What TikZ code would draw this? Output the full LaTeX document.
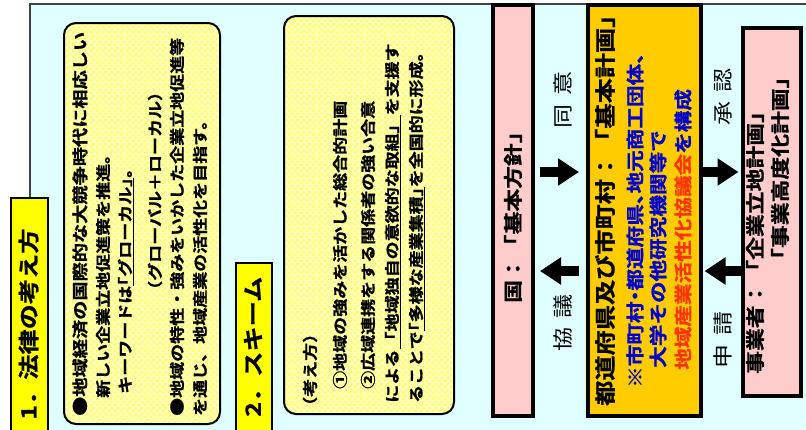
\documentclass[tikz,border=0pt]{standalone}
\usepackage{fontspec}
\usetikzlibrary{arrows.meta,patterns.meta}
\newfontfamily\jpb{Noto Sans CJK JP Bold}[FakeStretch=1.2, FakeBold=1]
\newfontfamily\jpr{Noto Sans CJK JP}[FakeStretch=1.2]
\newcommand\halfpunct{\addfontfeatures{RawFeature=+halt}}
\definecolor{bgcyan}{RGB}{224,255,255}
\definecolor{frame}{RGB}{64,64,64}
\definecolor{tabyellow}{RGB}{255,255,0}
\definecolor{ckyellow}{RGB}{255,255,110}
\definecolor{paleyellow}{RGB}{255,255,190}
\definecolor{pinkbox}{RGB}{255,204,204}
\definecolor{orangebox}{RGB}{255,204,0}
\definecolor{bluet}{RGB}{0,0,204}
\definecolor{redt}{RGB}{255,51,0}
\tikzdeclarepattern{
  name=ychecker,
  type=uncolored,
  bottom left={(0pt,0pt)},
  top right={(6pt,6pt)},
  tile size={(6pt,6pt)},
  code={
    \fill (0pt,0pt) rectangle (3pt,3pt);
    \fill (3pt,3pt) rectangle (6pt,6pt);
  }
}
\tikzset{
  tabbox/.style={draw=black, line width=2pt, fill=tabyellow, inner sep=0pt},
  roundbox/.style={draw=black, line width=2pt, rounded corners=12pt, inner sep=0pt,
    preaction={fill=paleyellow}, pattern=ychecker, pattern color=ckyellow},
  bigbox/.style={draw=black, line width=4pt, inner sep=0pt},
  line/.style={rotate=90, anchor=west, inner sep=0pt},
  tabtxt/.style={line, font=\jpb\fontsize{21}{24}\selectfont},
  bodytxt/.style={line, font=\jpb\fontsize{15}{18}\selectfont},
  kunitxt/.style={line, font=\jpb\fontsize{19}{22}\selectfont},
  preftxt/.style={line, font=\jpb\fontsize{21}{24}\selectfont},
  subtxt/.style={line, font=\jpb\fontsize{18}{22}\selectfont},
  jigtxt/.style={line, font=\jpb\fontsize{19}{22}\selectfont},
  lab/.style={rotate=90, inner sep=0pt, font=\jpr\fontsize{20}{24}\selectfont},
  fat/.style={line width=10pt, -{Triangle[length=21pt,width=26pt]}}
}
\begin{document}
\begin{tikzpicture}[x=1pt,y=-1pt]
\useasboundingbox (0,0) rectangle (806,429);
\clip (0,0) rectangle (806,429);
% outer frame
\fill[bgcyan] (30,4) rectangle (810,433);
\draw[frame, line width=1.5pt] (30,433) -- (30,4) -- (810,4);
% tabs
\node[tabbox, minimum width=37pt, minimum height=242pt] (tab1) at (29.5,319) {};
\node[tabbox, minimum width=36pt, minimum height=177pt] (tab2) at (254,351.5) {};
\node[tabtxt] (tab1t) at (28.5,420) {1．法律の考え方};
\node[tabtxt] (tab2t) at (253,417) {2．スキーム};
% rounded boxes
\node[roundbox, minimum width=156pt, minimum height=401pt] (box1) at (142,223.5) {};
\node[roundbox, minimum width=170pt, minimum height=398pt] (box2) at (369,215) {};
% box 1 text
\node[bodytxt, font=\jpb\fontsize{16}{18}\selectfont] (b1a) at (80,416) {●地域経済の国際的な大競争時代に相応しい};
\node[bodytxt] (b1b) at (103,398) {新しい企業立地促進策を推進。};
\node[bodytxt] (b1c) at (126,394) {\halfpunct キーワードは\underline{「グローカル」}。};
\node[bodytxt] (b1d) at (155,299) {（グローバル＋ローカル）};
\node[bodytxt] (b1e) at (177,416) {●地域の特性・強みをいかした企業立地促進等};
\node[bodytxt] (b1f) at (200,416) {を通じ、地域産業の活性化を目指す。};
% box 2 text
\node[bodytxt] (b2a) at (310,406) {\halfpunct（考え方）};
\node[bodytxt] (b2b) at (340,389) {①地域の強みを活かした総合的計画};
\node[bodytxt] (b2c) at (368,389) {②広域連携をする関係者の強い合意};
\node[bodytxt] (b2d) at (393,403) {による\underline{「地域独自の意欲的な取組」}を支援す};
\node[bodytxt] (b2e) at (417,403) {\halfpunct ることで\underline{「多様な産業集積」}を全国的に形成。};
% big boxes
\node[bigbox, fill=pinkbox, minimum width=40pt, minimum height=411pt] (kuni) at (512.5,210) {};
\node[bigbox, fill=orangebox, minimum width=113pt, minimum height=411pt] (pref) at (644,210) {};
\node[bigbox, fill=pinkbox, minimum width=58pt, minimum height=368pt] (jig) at (771.5,211.5) {};
\node[kunitxt] (kunit) at (513,303) {国：「基本方針」};
\node[preftxt] (prefa) at (605,406) {都道府県及び市町村：「基本計画」};
\node[subtxt, text=bluet] (prefb) at (635,388) {\halfpunct ※市町村・都道府県、地元商工団体、};
\node[subtxt, text=bluet] (prefc) at (658,368) {大学その他研究機関等で};
\node[subtxt] (prefd) at (683,370) {\textcolor{redt}{地域産業活性化協議会}\textcolor{bluet}{を構成}};
\node[jigtxt] (jiga) at (755,374) {事業者：「企業立地計画」};
\node[jigtxt] (jigb) at (780,271) {「事業高度化計画」};
% arrows
\coordinate (ra) at (0,172);
\coordinate (la) at (0,271);
\draw[fat, shorten <=5pt, shorten >=6.5pt] (kuni.east |- ra) -- (pref.west |- ra);
\draw[fat, shorten <=7pt, shorten >=5.5pt] (pref.west |- la) -- (kuni.east |- la);
\draw[fat, shorten >=2pt] (pref.east |- ra) -- (jig.west |- ra);
\draw[fat, shorten >=2pt] (jig.west |- la) -- (pref.east |- la);
% labels
\node[lab] (l1) at (563,100) {同\hspace{9pt}意};
\node[lab] (l2) at (563,323) {協\hspace{9pt}議};
\node[lab] (l3) at (723,97) {承\hspace{9pt}認};
\node[lab] (l4) at (723,340) {申\hspace{9pt}請};
\end{tikzpicture}
\end{document}
